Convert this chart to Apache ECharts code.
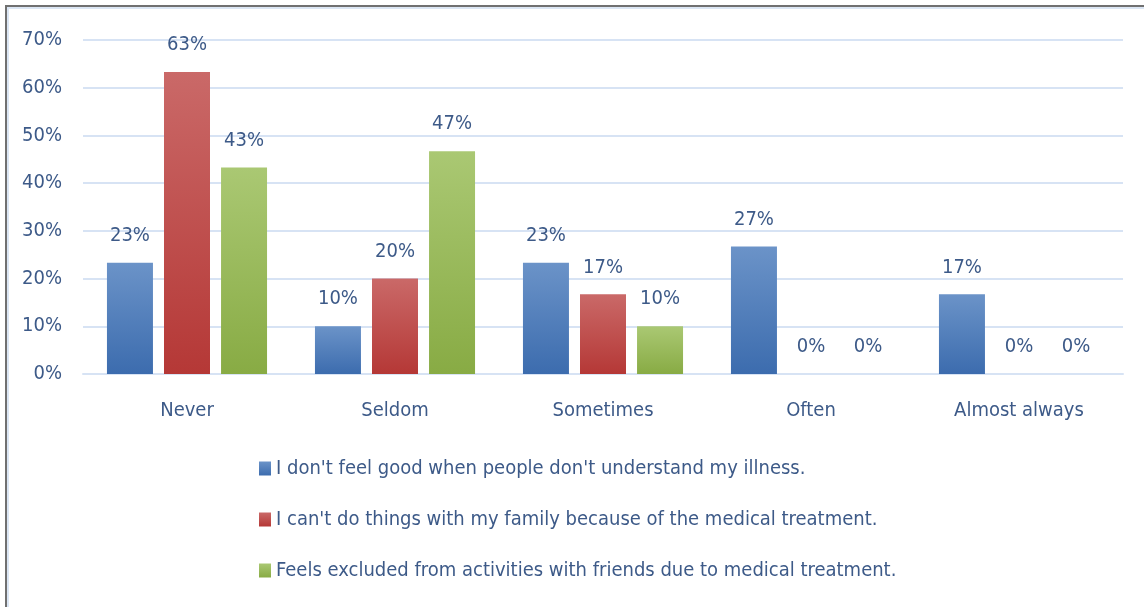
<!DOCTYPE html>
<html>
<head>
<meta charset="utf-8">
<script src="https://cdn.jsdelivr.net/npm/echarts@6/dist/echarts.min.js"></script>
<style>
  html, body { margin: 0; padding: 0; background: #fff; }
  #chart { width: 1144px; height: 607px; }
</style>
</head>
<body>
<div id="chart"></div>
<script>
// Frequency categories on the x axis
const categories = ['Never', 'Seldom', 'Sometimes', 'Often', 'Almost always'];

// Share of respondents (percent) for each statement
const notUnderstood = [23.3, 10.0, 23.3, 26.7, 16.7];
const familyLimits  = [63.3, 20.0, 16.7, 0, 0];
const friendsExcluded = [43.3, 46.7, 10.0, 0, 0];

const seriesNames = [
  "I don't feel good when people don't understand my illness.",
  "I can't do things with my family because of the medical treatment.",
  "Feels excluded from activities with friends due to medical treatment."
];

// Y axis ticks
const yTicks = [0, 10, 20, 30, 40, 50, 60, 70];

const FONT = '"DejaVu Sans Condensed", "Liberation Sans Narrow", sans-serif';
const TEXT = '#3d5a88';

function grad(top, bottom) {
  return new echarts.graphic.LinearGradient(0, 0, 0, 1, [
    { offset: 0, color: top },
    { offset: 1, color: bottom }
  ]);
}

const palette = [
  { top: '#6b93c8', bottom: '#3c6cae', icon: '#4a78b8' },
  { top: '#ca6968', bottom: '#b53836', icon: '#c0504d' },
  { top: '#aac873', bottom: '#88ab44', icon: '#9bbb59' }
];

const values = [notUnderstood, familyLimits, friendsExcluded];

const series = values.map((data, i) => ({
  name: seriesNames[i],
  type: 'bar',
  data: data,
  barWidth: 46,
  barGap: '24%',
  itemStyle: {
    color: grad(palette[i].top, palette[i].bottom)
  },
  label: {
    show: true,
    position: 'top',
    distance: 17,
    formatter: p => Math.round(p.value) + '%',
    fontFamily: FONT,
    fontSize: 20,
    color: TEXT
  }
}));

const chart = echarts.init(document.getElementById('chart'));
chart.setOption({
  backgroundColor: '#ffffff',
  animation: false,
  color: palette.map(p => p.icon),
  graphic: [
    {
      type: 'rect',
      shape: { x: 6, y: 6, width: 1300, height: 800 },
      style: { fill: 'none', stroke: '#707070', lineWidth: 2 },
      silent: true
    },
    {
      type: 'rect',
      shape: { x: 8, y: 8, width: 1300, height: 800 },
      style: { fill: 'none', stroke: '#dbe6f4', lineWidth: 2 },
      silent: true
    }
  ],
  grid: { left: 83, right: 21, top: 40, bottom: 233 },
  xAxis: {
    type: 'category',
    data: categories,
    axisTick: { show: false },
    axisLine: { show: true, lineStyle: { color: '#d7e3f4', width: 2 } },
    axisLabel: { margin: 27, fontFamily: FONT, fontSize: 20, color: TEXT }
  },
  yAxis: {
    type: 'value',
    min: yTicks[0],
    max: yTicks[yTicks.length - 1],
    interval: 10,
    axisLine: { show: false },
    axisTick: { show: false },
    splitLine: { lineStyle: { color: '#d7e3f4', width: 2 } },
    axisLabel: {
      margin: 21,
      fontFamily: FONT,
      fontSize: 20,
      color: TEXT,
      formatter: v => v + '%'
    }
  },
  legend: {
    orient: 'vertical',
    left: 254,
    top: 453,
    icon: 'rect',
    itemWidth: 12,
    itemHeight: 14,
    itemGap: 30,
    itemStyle: { borderWidth: 0 },
    textStyle: { fontFamily: FONT, fontSize: 20, color: TEXT, lineHeight: 21 },
    data: seriesNames
  },
  series: series
});
</script>
</body>
</html>
